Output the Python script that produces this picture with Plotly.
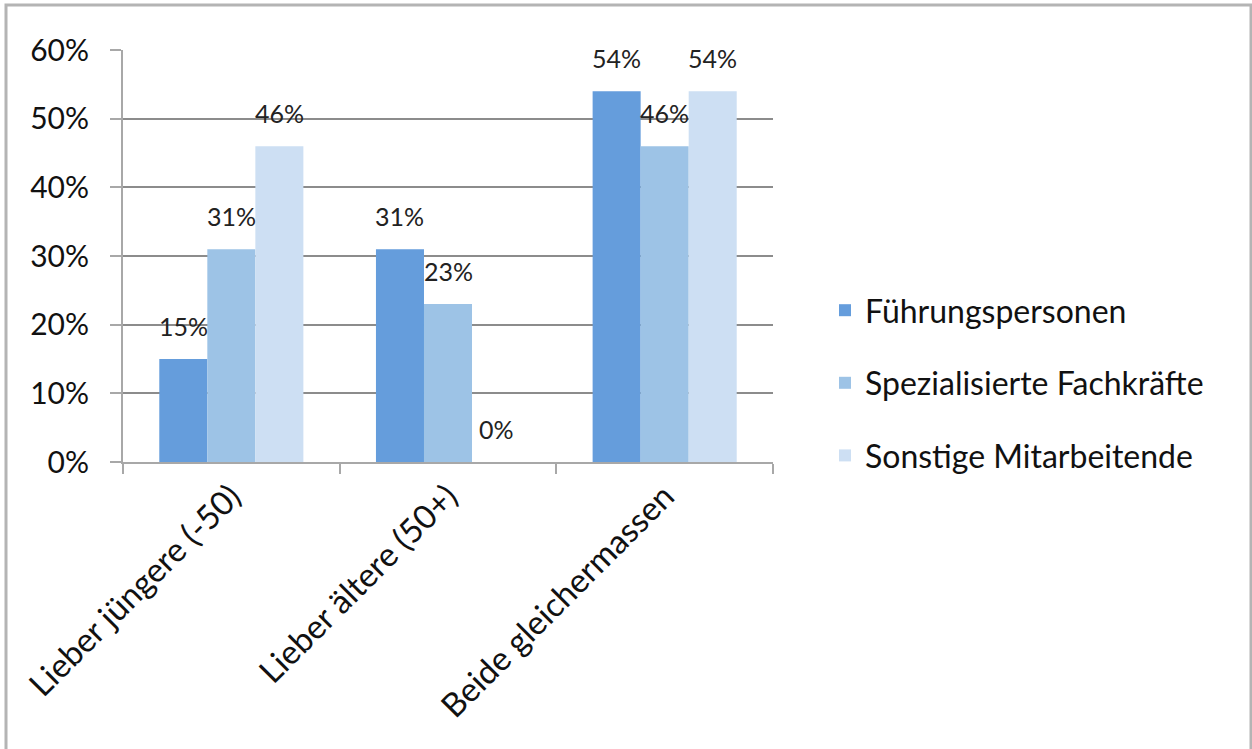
import plotly.graph_objects as go

# Survey answers: preferred age group when hiring, per employee group
categories = ["Lieber jüngere (-50)", "Lieber ältere (50+)", "Beide gleichermassen"]
series_names = ["Führungspersonen", "Spezialisierte Fachkräfte", "Sonstige Mitarbeitende"]
fuehrung = [15, 31, 54]
fachkraefte = [31, 23, 46]
sonstige = [46, 0, 54]
y_ticks = [0, 10, 20, 30, 40, 50, 60]
y_tick_labels = ["0%", "10%", "20%", "30%", "40%", "50%", "60%"]

colors = ["#659ddc", "#9dc3e6", "#cddff3"]
series_values = [fuehrung, fachkraefte, sonstige]

W, H = 1252, 749
margin = dict(l=123, r=479, t=50, b=287)
bargap = 0.335
font_family = "Lato, Open Sans, sans-serif"

fig = go.Figure()
for i, (name, vals) in enumerate(zip(series_names, series_values)):
    fig.add_trace(go.Bar(
        x=categories, y=vals, name=name,
        marker=dict(color=colors[i], line=dict(width=0)),
        legendgroup=name,
    ))

# pixel width of one bar, derived from the plot area and the gap setting
plot_w = W - margin["l"] - margin["r"]
bar_px = plot_w / len(categories) * (1 - bargap) / len(series_names)

annotations = []
for i, vals in enumerate(series_values):
    offset = (i - (len(series_names) - 1) / 2) * bar_px
    for cat, v in zip(categories, vals):
        annotations.append(dict(
            x=cat, y=v, xref="x", yref="y", text=f"{v}%",
            showarrow=False, xshift=offset, yshift=33,
            font=dict(family=font_family, size=25, color="#222222"),
        ))

fig.update_layout(
    width=W, height=H, margin=margin,
    barmode="group", bargap=bargap, bargroupgap=0,
    plot_bgcolor="white", paper_bgcolor="white",
    font=dict(family=font_family, color="#111111"),
    showlegend=True,
    legend=dict(
        x=1.08, xanchor="left", y=0.192, yanchor="middle",
        font=dict(family=font_family, size=32, color="#111111"),
        tracegroupgap=28, itemwidth=30,
        bgcolor="rgba(0,0,0,0)",
    ),
    annotations=annotations,
    shapes=[dict(
        type="rect", xref="paper", yref="paper",
        x0=(6 - margin["l"]) / plot_w, x1=(1251 - margin["l"]) / plot_w,
        y0=-1.0, y1=(H - margin["b"] - 5) / (H - margin["t"] - margin["b"]),
        line=dict(color="#b4b4b4", width=3), fillcolor="rgba(0,0,0,0)",
        layer="below",
    )],
)

fig.update_yaxes(
    range=[0, 60], tickvals=y_ticks, ticktext=y_tick_labels,
    showgrid=True, gridcolor="#8c8c8c", gridwidth=1.5,
    showline=True, linecolor="#a8a8a8", linewidth=2,
    ticks="outside", ticklen=11, tickcolor="#a8a8a8", tickwidth=2,
    ticklabelstandoff=15,
    tickfont=dict(family=font_family, size=30, color="#111111"),
    zeroline=False,
)
fig.update_xaxes(
    showline=True, linecolor="#a8a8a8", linewidth=2,
    ticks="outside", tickson="boundaries", ticklen=10,
    tickcolor="#a8a8a8", tickwidth=2,
    tickangle=-45,
    tickfont=dict(family=font_family, size=33, color="#111111"),
    showgrid=False,
)

fig.write_html("out.html")
